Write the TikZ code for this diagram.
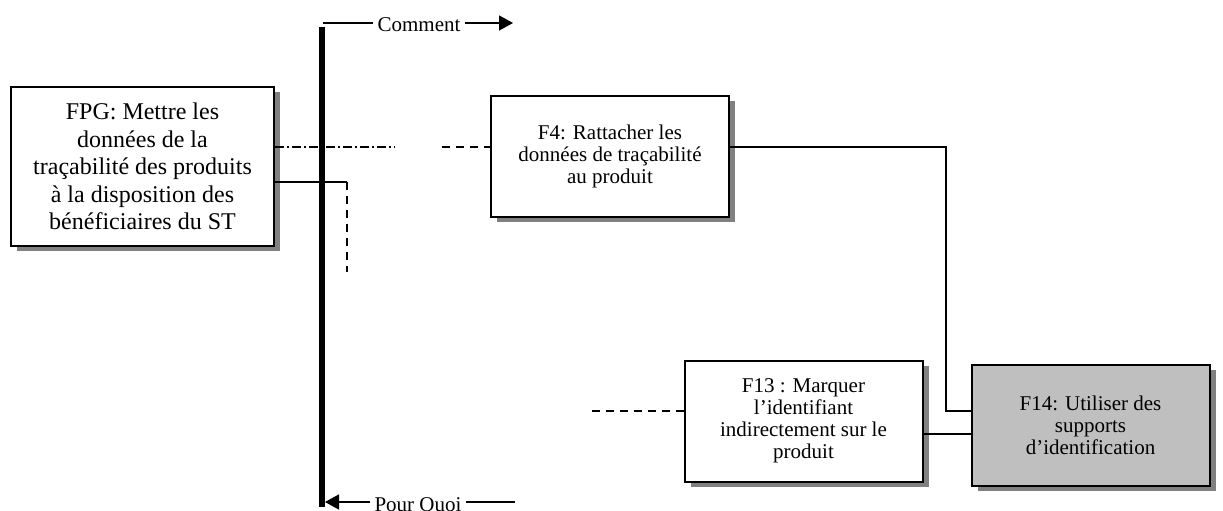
\documentclass[tikz,border=0pt]{standalone}
\usepackage{fontspec}
\setmainfont{Liberation Serif}
\usetikzlibrary{arrows.meta, positioning, shadows}
\tikzset{
    fnbox/.style={rectangle, draw=black, line width=2pt, fill=white,
                  align=center, inner sep=4pt,
                  drop shadow={shadow xshift=6pt, shadow yshift=-5pt,
                               fill=black!50, opacity=1},
                  font=\fontsize{21}{22}\selectfont},
    fpgbox/.style={fnbox, font=\fontsize{24}{27.5}\selectfont,
                   minimum width=263pt, minimum height=159pt},
    subbox/.style={fnbox, minimum width=238pt, minimum height=121pt},
    link/.style={line width=1.6pt, draw=black},
    dashedlink/.style={link, dash pattern=on 8pt off 6pt},
    dotdashlink/.style={link, dash pattern=on 9pt off 3pt on 2pt off 3pt},
    axisbar/.style={line width=6pt, draw=black},
    axislbl/.style={font=\fontsize{21}{21}\selectfont, inner xsep=4pt, inner ysep=0pt},
    axisarrow/.style={link, -{Triangle[length=14pt, width=15pt]}},
}
\begin{document}
\begin{tikzpicture}[x=1pt, y=-1pt]
    \useasboundingbox (0,0) rectangle (1223,511);
    % function boxes
    \node[fpgbox] (fpg) at (142.5,166.5)
        {FPG: Mettre les\\
        données de la\\
        traçabilité des produits\\
        à la disposition des\\
        bénéficiaires du ST};
    \node[subbox, right=215pt of fpg, yshift=10pt] (f4)
        {F4: Rattacher les\\
        données de traçabilité\\
        au produit};
    \node[subbox, fill=black!25] (f14) at (1090.5,425)
        {F14: Utiliser des\\
        supports\\
        d’identification};
    \node[subbox, left=47pt of f14, yshift=4pt] (f13)
        {F13 : Marquer\\
        l’identifiant\\
        indirectement sur le\\
        produit};
    % free ends
    \coordinate (gapl) at (395,147);
    \coordinate (gapr) at (442,147);
    \coordinate (dropend) at (347,272);
    \coordinate (f13in) at (592,411);
    \coordinate (fpgout) at ([yshift=-15.5pt]fpg.east);
    \coordinate (f13out) at ([yshift=-13pt]f13.east);
    % connectors
    \draw[dotdashlink] ([yshift=19.5pt]fpg.east) -- (gapl);
    \draw[dashedlink] (gapr) -- (gapr -| f4.west);
    \draw[link] (fpgout) -- (fpgout -| dropend);
    \draw[dashedlink] (fpgout -| dropend) -- (dropend);
    \draw[link] ([yshift=9.5pt]f4.east) -- ++(216,0) |- ([yshift=14pt]f14.west);
    \draw[link] (f13out) -- (f13out -| f14.west);
    \draw[dashedlink] (f13in) -- (f13in -| f13.west);
    % how / why axis
    \coordinate (bartop) at (322,27);
    \coordinate (barbot) at (322,507);
    \draw[axisbar] (bartop) -- (barbot);
    \coordinate (cmtstart) at (323,23);
    \coordinate (cmtend) at (513,23);
    \node[axislbl] (comment) at (419,25) {Comment};
    \draw[link] (cmtstart) -- (cmtstart -| comment.west);
    \draw[axisarrow] (cmtstart -| comment.east) -- (cmtend);
    \coordinate (pqtip) at (325,502);
    \coordinate (pqend) at (515,502);
    \node[axislbl, anchor=base] (pourquoi) at (418,511) {Pour Quoi};
    \draw[axisarrow] (pourquoi.west |- pqtip) -- (pqtip);
    \draw[link] (pqend -| pourquoi.east) -- (pqend);
\end{tikzpicture}
\end{document}
